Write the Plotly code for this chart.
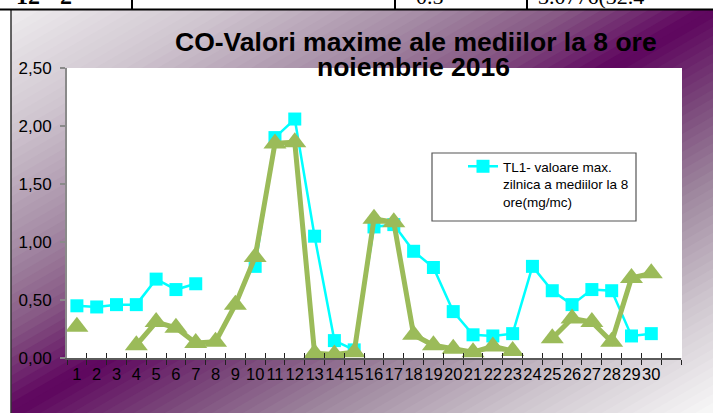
import plotly.graph_objects as go

# ---------------- data ----------------
days = ["1", "2", "3", "4", "5", "6", "7", "8", "9", "10",
        "11", "12", "13", "14", "15", "16", "17", "18", "19", "20",
        "21", "22", "23", "24", "25", "26", "27", "28", "29", "30"]
extra_slot = [" "]
tl1_values = [0.45, 0.44, 0.46, 0.46, 0.68, 0.59, 0.64, None, None, 0.79,
              1.90, 2.06, 1.05, 0.15, 0.07, 1.13, 1.15, 0.92, 0.78, 0.40,
              0.20, 0.19, 0.21, 0.79, 0.58, 0.46, 0.59, 0.58, 0.19, 0.21]
tl2_values = [0.27, None, None, 0.11, 0.31, 0.26, 0.13, 0.14, 0.46, 0.87,
              1.85, 1.86, 0.04, 0.03, 0.05, 1.20, 1.17, 0.20, 0.11, 0.08,
              0.05, 0.10, 0.06, None, 0.17, 0.34, 0.31, 0.14, 0.69, 0.73]
legend_name = "TL1- valoare max.<br>zilnica a mediilor la 8<br>ore(mg/mc)"
title_line1 = "CO-Valori maxime ale mediilor la 8 ore"
title_line2 = "noiembrie 2016"

categories = days + extra_slot

# ---------------- geometry helpers ----------------
W, H = 713, 413
L, R, T, B = 67, 681, 68, 358          # plot area in pixels
BX0, BY0, BW, BH = 11, 10, 702, 403   # chart frame (gradient box) in pixels


def px(x):
    return (x - L) / (R - L)


def py(y):
    return (B - y) / (B - T)


FONT = "Liberation Sans, Arial, sans-serif"

# ---------------- diagonal gradient background built from bands ----------------
stops = [(0.0, "#efedef"), (0.15, "#d0c6d0"), (0.30, "#a58ca5"), (0.40, "#865884"),
         (0.50, "#5e045e"), (0.60, "#784478"), (0.72, "#a08aa0"), (0.86, "#d0c8d0"),
         (1.0, "#f8f8f8")]


def hex2rgb(h):
    return tuple(int(h[i:i + 2], 16) for i in (1, 3, 5))


def color_at(t):
    for (o0, c0), (o1, c1) in zip(stops[:-1], stops[1:]):
        if o0 <= t <= o1:
            f = (t - o0) / (o1 - o0)
            a, b = hex2rgb(c0), hex2rgb(c1)
            return "rgb({},{},{})".format(*(round(a[i] + (b[i] - a[i]) * f) for i in range(3)))
    return stops[-1][1]


def clip(poly, keep):
    out = []
    n = len(poly)
    for i in range(n):
        p, q = poly[i], poly[(i + 1) % n]
        kp, kq = keep(p), keep(q)
        if kp >= 0:
            out.append(p)
        if (kp >= 0) != (kq >= 0):
            f = kp / (kp - kq)
            out.append((p[0] + (q[0] - p[0]) * f, p[1] + (q[1] - p[1]) * f))
    return out


NB = 90
shapes = []
for k in range(NB):
    t0, t1 = k / NB, (k + 1) / NB
    s0, s1 = 2 * t0 - 0.003, 2 * t1 + 0.006
    poly = [(0, 0), (1, 0), (1, 1), (0, 1)]
    poly = clip(poly, lambda p: p[0] + p[1] - s0)
    poly = clip(poly, lambda p: s1 - (p[0] + p[1]))
    if len(poly) < 3:
        continue
    pts = [(px(BX0 + BW * u), py(BY0 + BH * v)) for u, v in poly]
    path = "M " + " L ".join(f"{a:.5f},{b:.5f}" for a, b in pts) + " Z"
    shapes.append(dict(type="path", path=path, xref="paper", yref="paper",
                       fillcolor=color_at((t0 + t1) / 2), line=dict(width=0),
                       layer="below"))

fig = go.Figure()

fig.add_trace(go.Scatter(
    x=days, y=tl1_values, name=legend_name, mode="lines+markers",
    line=dict(color="#00FFFF", width=2.5),
    marker=dict(symbol="square", size=13, color="#00FFFF"),
    connectgaps=False,
))
fig.add_trace(go.Scatter(
    x=days, y=tl2_values, mode="lines+markers", showlegend=False,
    line=dict(color="#9BBB59", width=5),
    marker=dict(symbol="triangle-up", size=20, color="#9BBB59"),
    connectgaps=False,
))
# helper traces registering all category slots on both x axes
fig.add_trace(go.Scatter(x=categories, y=[None] * len(categories), mode="lines",
                         showlegend=False, hoverinfo="skip"))
fig.add_trace(go.Scatter(x=categories, y=[None] * len(categories), mode="lines",
                         showlegend=False, hoverinfo="skip", xaxis="x2"))

cat_axis = dict(type="category", categoryorder="array", categoryarray=categories,
                range=[-0.5, len(categories) - 0.5], tickson="boundaries",
                showgrid=False, zeroline=False, tickmode="linear", tick0=0, dtick=1)

fig.update_layout(
    width=W, height=H,
    margin=dict(l=L, r=W - R, t=T, b=H - B, pad=0),
    paper_bgcolor="white", plot_bgcolor="white",
    separators=", ",
    font=dict(family=FONT, color="black"),
    xaxis=dict(**cat_axis, ticks="outside", ticklen=5, tickwidth=1, tickcolor="#222",
               showline=True, linecolor="#5a5a5a", linewidth=2,
               tickangle=0, tickfont=dict(size=16.5, family=FONT, color="black"),
               ticklabelstandoff=0),
    xaxis2=dict(**cat_axis, overlaying="x", anchor="y", side="bottom",
                ticks="inside", ticklen=5, tickwidth=1, tickcolor="#222",
                showticklabels=False, showline=False),
    yaxis=dict(range=[0, 2.5], tick0=0, dtick=0.5, tickformat=".2f",
               ticks="outside", ticklen=5, tickwidth=2, tickcolor="#8a8a8a",
               showline=True, linecolor="#8a8a8a", linewidth=2,
               showgrid=False, zeroline=False,
               tickfont=dict(size=17, family=FONT, color="black"),
               ticklabelstandoff=5),
    legend=dict(x=px(463), y=py(151), xanchor="left", yanchor="top",
                bgcolor="rgba(0,0,0,0)", borderwidth=0, valign="top",
                font=dict(size=13.5, family=FONT, color="black")),
    showlegend=True,
)

shapes += [
    # white plot area
    dict(type="rect", xref="paper", yref="paper", x0=0, x1=px(682), y0=0, y1=1,
         fillcolor="white", line=dict(width=0), layer="below"),
    # legend box
    dict(type="rect", xref="paper", yref="paper", x0=px(432), x1=px(636),
         y0=py(221), y1=py(153), fillcolor="white",
         line=dict(color="#555", width=1.2), layer="below"),
    # chart frame left border
    dict(type="line", xref="paper", yref="paper", x0=px(11), x1=px(11),
         y0=py(10), y1=py(420), line=dict(color="#333", width=1.5)),
    # table fragment at top
    dict(type="line", xref="paper", yref="paper", x0=px(-5), x1=px(720),
         y0=py(9.5), y1=py(9.5), line=dict(color="black", width=2)),
]
for xv in (132, 395, 527):
    shapes.append(dict(type="line", xref="paper", yref="paper", x0=px(xv), x1=px(xv),
                       y0=py(-5), y1=py(9.5), line=dict(color="black", width=2)))
fig.update_layout(shapes=shapes)

annotations = [
    dict(text=f"<b>{title_line1}</b>", x=px(416), y=py(42), xref="paper", yref="paper",
         xanchor="center", yanchor="middle", showarrow=False,
         font=dict(size=26.5, family=FONT, color="black")),
    dict(text=f"<b>{title_line2}</b>", x=px(413), y=py(67), xref="paper", yref="paper",
         xanchor="center", yanchor="middle", showarrow=False,
         font=dict(size=26.5, family=FONT, color="black")),
    # cut-off table text fragments
    dict(text="<b>12 - 2</b>", x=px(14), y=py(11), xref="paper", yref="paper",
         xanchor="left", yanchor="bottom", showarrow=False,
         font=dict(size=24, family="Liberation Serif, serif", color="black")),
    dict(text="0.5", x=px(430), y=py(11), xref="paper", yref="paper",
         xanchor="center", yanchor="bottom", showarrow=False,
         font=dict(size=22, family="Liberation Serif, serif", color="black")),
    dict(text="3.0776(32.4", x=px(536), y=py(11), xref="paper", yref="paper",
         xanchor="left", yanchor="bottom", showarrow=False,
         font=dict(size=22, family="Liberation Serif, serif", color="black")),
]
fig.update_layout(annotations=annotations)

fig.write_html("out.html", config={"displayModeBar": False},
               post_script="document.body.style.margin='0px';")
